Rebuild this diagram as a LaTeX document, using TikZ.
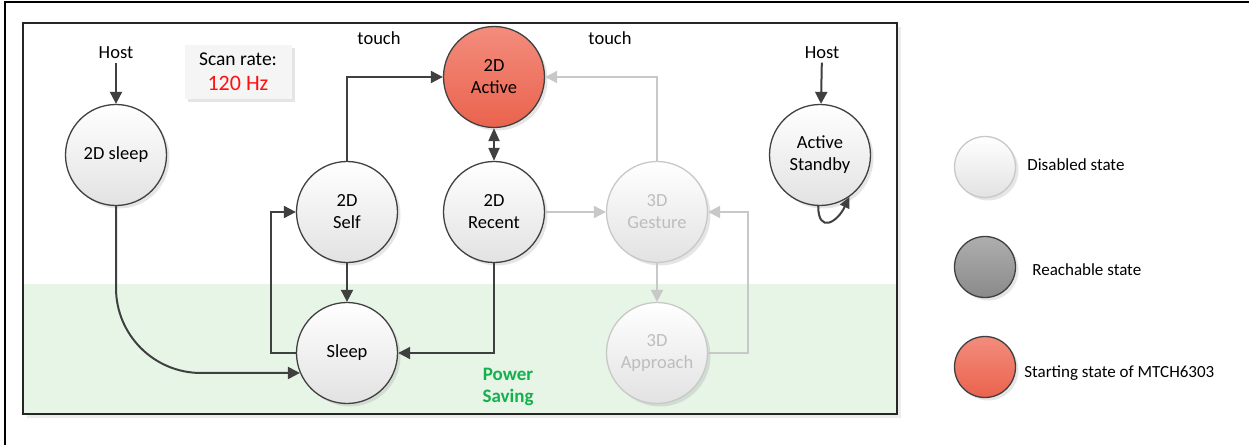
\documentclass[tikz,border=0pt]{standalone}
\usepackage{fontspec}
\setmainfont{Carlito}
\usetikzlibrary{arrows.meta}
\usetikzlibrary{shadows}
\usetikzlibrary{positioning}

\definecolor{linegray}{HTML}{404040}
\definecolor{offgray}{HTML}{C8C8C8}
\definecolor{offtext}{HTML}{BDBDBD}
\definecolor{nodegray}{HTML}{E2E2E2}
\definecolor{starttop}{HTML}{F38C7D}
\definecolor{startbot}{HTML}{EA634D}
\definecolor{reachtop}{HTML}{AEAEAE}
\definecolor{reachbot}{HTML}{8A8A8A}
\definecolor{bandgreen}{HTML}{E7F5E7}
\definecolor{savegreen}{HTML}{14B04E}
\definecolor{scanred}{HTML}{FF1010}

\begin{document}
\begin{tikzpicture}[x=1pt, y=1pt, font=\fontsize{18.5}{22}\selectfont,
    main node/.style={circle, draw=linegray, line width=1.3pt, minimum size=101pt,
      inner sep=0pt, align=center, top color=white, bottom color=nodegray,
      drop shadow={opacity=0.2, shadow xshift=3pt, shadow yshift=-3pt}},
    off node/.style={main node, draw=offgray, text=offtext},
    start node/.style={main node, top color=starttop, bottom color=startbot},
    reach node/.style={main node, top color=reachtop, bottom color=reachbot},
    arr/.style={-{Triangle[length=12pt, width=12pt]}, line width=2pt, draw=linegray},
    dbl/.style={arr, {Triangle[length=13pt, width=11pt]}-{Triangle[length=13pt, width=11pt]}},
    off arr/.style={arr, draw=offgray},
    legend text/.style={inner sep=0pt, anchor=west, font=\fontsize{17}{22}\selectfont}]
  \clip (0,0) rectangle (1249,-444);
  % frames
  \draw[line width=1.5pt] (5,-2) rectangle (1280,-480);
  \fill[white, drop shadow={opacity=0.15, shadow xshift=4pt, shadow yshift=-4pt}]
    (23,-23) rectangle (897,-414);
  \fill[bandgreen] (23,-284) rectangle (897,-414);
  \draw[line width=2pt, draw=black!85] (23,-23) rectangle (897,-414);

  % states
  \node[main node] (sleep2d) at (116,-155) {2D sleep};
  \node[main node] (self) at (347,-212) {2D\\Self};
  \node[main node] (sleep) at (347,-353) {Sleep};
  \node[start node] (active) at (494,-77) {2D\\Active};
  \node[main node] (recent) at (494,-212) {2D\\Recent};
  \node[off node] (gesture) at (657,-212) {3D\\Gesture};
  \node[off node] (approach) at (657,-353) {3D\\Approach};
  \node[main node] (stby) at (820,-155) {Active\\Standby};

  % texts
  \node (hostL) at (116,-53) {Host};
  \node (hostR) at (822,-53) {Host};
  \node (touchL) at (379,-38) {touch};
  \node (touchR) at (610,-38) {touch};
  \node[fill=black!4, minimum width=107pt, minimum height=54pt, align=center,
    drop shadow={opacity=0.2, shadow xshift=3pt, shadow yshift=-3pt}] (scan) at (238,-72)
    {{\fontsize{19.5}{22}\selectfont Scan rate:}\\[3pt]{\fontsize{22}{24}\selectfont\color{scanred}120 Hz}};
  \node[align=center, text=savegreen, font=\fontsize{19}{22}\selectfont\bfseries]
    (saving) at (508,-387) {Power\\Saving};

  % transitions
  \draw[arr] (hostL) -- (sleep2d);
  \draw[arr] (hostR) -- (stby);
  \draw[arr, rounded corners=85pt] (sleep2d.south) |- (sleep.203);
  \draw[arr] (self) -- (sleep);
  \draw[arr] (self.north) |- (active.west);
  \draw[arr] (sleep.west) -- ++(-25,0) |- (self.west);
  \draw[arr] (recent.south) |- (sleep.east);
  \draw[dbl] (active) -- (recent);
  \draw[off arr] (recent) -- (gesture);
  \draw[off arr] (gesture.north) |- (active.east);
  \draw[off arr] (gesture) -- (approach);
  \draw[off arr] (approach.east) -- ++(40,0) |- (gesture.east);
  \draw[arr, -{Triangle[length=11pt, width=10pt]}] (stby.-92) to[out=-90, in=-115, looseness=2.2] (stby.-55);

  % legend
  \node[off node, minimum size=61pt] (legoff) at (985,-167) {};
  \node[reach node, minimum size=61pt] (legreach) at (985,-267) {};
  \node[start node, minimum size=61pt] (legstart) at (985,-367) {};
  \node[legend text, right=11pt of legoff, yshift=2pt] {Disabled state};
  \node[legend text, right=16pt of legreach, yshift=-3pt] {Reachable state};
  \node[legend text, right=8pt of legstart, yshift=-6pt] {Starting state of MTCH6303};
\end{tikzpicture}
\end{document}
